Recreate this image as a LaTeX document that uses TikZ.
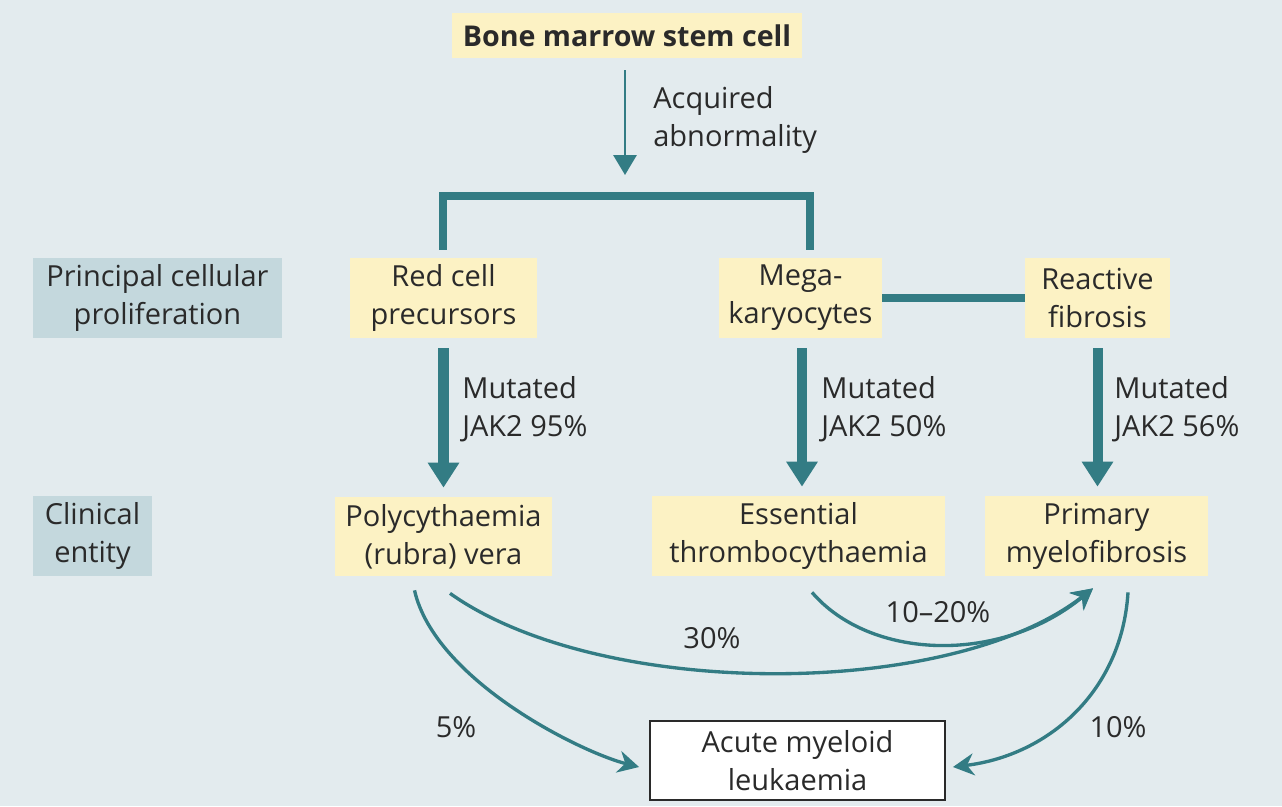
\documentclass[tikz,border=0pt]{standalone}
\usepackage{fontspec}
\setmainfont{Open Sans}
\usetikzlibrary{arrows.meta,calc}
\definecolor{bgblue}{HTML}{E3EBEE}
\definecolor{boxyellow}{HTML}{FCF2C4}
\definecolor{labelblue}{HTML}{C4D8DD}
\definecolor{arrowteal}{HTML}{337C84}
\definecolor{txtgrey}{HTML}{2A2A2A}
\tikzset{
    box/.style = {fill=boxyellow, text=txtgrey, align=center, inner sep=2pt,
        minimum height=1.6cm},
    rowlabel/.style = {fill=labelblue, text=txtgrey, align=center, inner sep=2pt,
        minimum height=1.6cm},
    note/.style = {text=txtgrey, align=left, anchor=west, inner sep=0pt},
    pct/.style = {text=txtgrey, inner sep=0pt},
    bar/.style = {draw=arrowteal, line width=5pt},
    bigarrow/.style = {draw=arrowteal, line width=5.7pt, -{Triangle[width=0.6cm,length=0.5cm]}},
    thinarrow/.style = {draw=arrowteal, line width=1.7pt, -{Triangle[width=0.46cm,length=0.4cm]}},
    curvearrow/.style = {draw=arrowteal, line width=1.9pt, -{Stealth[width=0.44cm,length=0.42cm]}}
}

\begin{document}
\begin{tikzpicture}[x=0.02cm, y=-0.02cm, font=\fontsize{16.5}{21.6}\selectfont]
    \fill[bgblue] (0,0) rectangle (1282,806);
    \useasboundingbox (0,0) rectangle (1282,806);

    % top
    \node[box, minimum width=7cm, minimum height=0.9cm, font=\fontsize{16.3}{21.6}\selectfont\bfseries] (stem) at (627,35.5) {Bone marrow stem cell};
    \coordinate (split) at (625,196);
    \node[note] (acq) at (653,120) {Acquired\\abnormality};

    % row labels
    \node[rowlabel, minimum width=4.98cm] (prolif) at (157.5,298) {Principal cellular\\proliferation};
    \node[rowlabel, minimum width=2.38cm] (clin) at (92.5,536) {Clinical\\entity};

    % proliferation
    \node[box, minimum width=3.74cm] (red) at (443.5,298) {Red cell\\precursors};
    \node[box, minimum width=3.26cm] (mega) at (800.5,298) {Mega-\\karyocytes};
    \node[box, minimum width=2.9cm] (fib) at (1097.5,298) {Reactive\\fibrosis};

    % clinical entities
    \node[box, minimum width=4.34cm, minimum height=1.58cm] (poly) at (443.5,536.5) {Polycythaemia\\(rubra) vera};
    \node[box, minimum width=5.86cm] (ess) at (798.5,536) {Essential\\thrombocythaemia};
    \node[box, minimum width=4.46cm] (prim) at (1096.5,536) {Primary\\myelofibrosis};
    \node[box, fill=white, draw=txtgrey, line width=1.1pt, minimum width=5.9cm, minimum height=1.58cm] (aml) at (797.5,760.5) {Acute myeloid\\leukaemia};

    % stem cell to bracket
    \draw[thinarrow, shorten <=0.24cm, shorten >=0.42cm] (split |- stem.south) -- (split);
    \coordinate (bl) at ($(red.north)+(-0.5,-8)$);
    \coordinate (br) at ($(mega.north)+(9.5,-8)$);
    \draw[bar] (bl) -- (bl |- split) -- (br |- split) -- (br);
    \draw[bar] (mega.east) -- (fib.west);

    % mutated JAK2
    \draw[bigarrow, shorten <=0.2cm, shorten >=0.18cm] (red.south) -- (red.south |- poly.north);
    \draw[bigarrow, shorten <=0.2cm, shorten >=0.18cm] ($(mega.south)+(1.5,0)$) -- ($(mega.south |- ess.north)+(1.5,0)$);
    \draw[bigarrow, shorten <=0.2cm, shorten >=0.18cm] (fib.south) -- (fib.south |- prim.north);
    \node[note] (jak1) at (462,409) {Mutated\\JAK2 95\%};
    \node[note] (jak2) at (821,409) {Mutated\\JAK2 50\%};
    \node[note] (jak3) at (1114,409) {Mutated\\JAK2 56\%};

    % transformations
    \draw[curvearrow] ($(poly.south)+(-29,14)$) .. controls (435,680) and (580,752) .. ($(aml.west)+(-10,6.5)$);
    \draw[curvearrow] ($(poly.south)+(6.5,17)$) .. controls (600,700) and (950,700) .. ($(prim.south)+(-3.5,12)$);
    \draw[curvearrow] ($(ess.south)+(13.5,16)$) .. controls (870,660) and (1000,665) .. ($(prim.south)+(-3.5,12)$);
    \draw[curvearrow] ($(prim.south)+(31.5,16)$) .. controls (1122,690) and (1050,755) .. ($(aml.east)+(7,6.5)$);
    \node[pct] (p5) at (456,727) {5\%};
    \node[pct] (p30) at (712,638) {30\%};
    \node[pct] (p1020) at (938,612) {10--20\%};
    \node[pct] (p10) at (1118,727) {10\%};
\end{tikzpicture}
\end{document}
